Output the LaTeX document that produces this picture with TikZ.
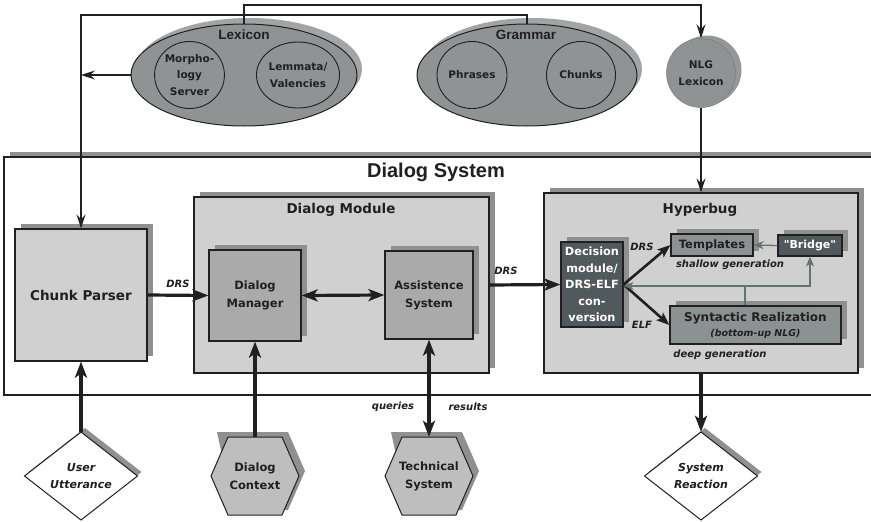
\documentclass[tikz,border=0pt]{standalone}
\usepackage{fontspec}
\setmainfont{DejaVu Sans}
\newfontfamily\arialfont{Liberation Sans}
\newfontfamily\plainsans{DejaVu Sans}
\usetikzlibrary{shapes.geometric,arrows.meta,shadows}

\definecolor{ink}{RGB}{35,31,32}
\definecolor{shgray}{RGB}{143,145,145}
\definecolor{lightbox}{RGB}{208,208,208}
\definecolor{midbox}{RGB}{170,170,170}
\definecolor{greenbox}{RGB}{140,145,145}
\definecolor{darkbox}{RGB}{80,90,92}
\definecolor{ellfill}{RGB}{143,147,147}
\definecolor{ellshade}{RGB}{162,165,165}
\definecolor{hexfill}{RGB}{190,190,190}
\definecolor{conngray}{RGB}{100,115,115}

\newcommand{\fsz}[2]{\fontsize{#1}{#2}\selectfont}

\begin{document}
\begin{tikzpicture}[x=1pt,y=-1pt,
  every node/.style={text=ink, font=\bfseries},
  shadowed/.style={drop shadow={shadow xshift=6pt, shadow yshift=5pt, fill=shgray, opacity=1}},
  ellshadowed/.style={drop shadow={shadow xshift=5pt, shadow yshift=6pt, fill=ellshade, opacity=1}},
  blockbox/.style={rectangle, draw=ink, line width=1.2pt, inner sep=0pt, align=center},
  lightblock/.style={blockbox, fill=lightbox, shadowed},
  midblock/.style={blockbox, fill=midbox, shadowed},
  greenblock/.style={blockbox, fill=greenbox, shadowed},
  darkblock/.style={blockbox, fill=darkbox, shadowed, text=white},
  title/.style={font=\bfseries\fsz{13.5}{16}},
  arialtitle/.style={font=\arialfont\bfseries\fsz{13.5}{16}},
  bigell/.style={ellipse, draw=ink, line width=1pt, fill=ellfill, inner sep=0pt, ellshadowed},
  innerell/.style={ellipse, draw=ink, line width=0.9pt, inner sep=0pt, align=center, font=\bfseries\fsz{10.5}{16.5}},
  tagtext/.style={font=\bfseries\itshape\fsz{10}{12}},
  shapetext/.style={rectangle, inner sep=0pt, align=center},
  thinarrow/.style={draw=ink, line width=1.2pt, -{Stealth[length=14pt,width=9pt,inset=5pt]}},
  thickarrow/.style={draw=ink, line width=3.2pt, -{Stealth[length=16pt,width=12pt,inset=4pt]}},
  thickboth/.style={draw=ink, line width=3.2pt, {Stealth[length=16pt,width=12pt,inset=4pt]}-{Stealth[length=16pt,width=12pt,inset=4pt]}},
  midarrow/.style={draw=ink, line width=2.6pt, -{Stealth[length=13pt,width=10pt,inset=3pt]}},
  gline/.style={draw=conngray, line width=1.3pt},
  garrow/.style={gline, -{Stealth[length=10pt,width=8pt,inset=3pt]}}
]
\useasboundingbox (0,0) rectangle (871,522);
\fill[white] (0,0) rectangle (871,522);

% ---------- Dialog System frame ----------
\fill[shgray] (10,151.5) rectangle (871,156.5);
\draw[ink, line width=1.2pt] (871,157) -| (4,395) -- (871,395);
\node[font=\arialfont\bfseries\fsz{20}{24}] (dstitle) at (436,172) {Dialog System};

% ---------- knowledge sources ----------
\node[bigell, minimum width=226pt, minimum height=102pt] (lex) at (244,75) {};
\node[arialtitle] (lextitle) at (244,35) {Lexicon};
\node[innerell, minimum width=69pt, minimum height=67pt] (morph) at (189.5,75) {Morpho-\\logy\\Server};
\node[innerell, minimum width=80pt, minimum height=66pt] (lemma) at (298,75) {Lemmata/\\Valencies};

\node[bigell, minimum width=220pt, minimum height=102pt] (gram) at (527,75) {};
\node[arialtitle] (gramtitle) at (526,35) {Grammar};
\node[innerell, minimum width=70pt, minimum height=67pt] (phr) at (472,75) {Phrases};
\node[innerell, minimum width=69pt, minimum height=67pt] (chk) at (581,75) {Chunks};

\node[circle, fill=ellfill, draw=ellfill!85!black, line width=0.5pt, minimum size=69pt, inner sep=0pt, align=center,
  drop shadow={shadow xshift=6pt, shadow yshift=3pt, fill=ellfill!95!white, opacity=1},
  font=\bfseries\fsz{10.5}{16.5}] (nlg) at (701,73) {NLG\\Lexicon};

% ---------- Chunk parser ----------
\node[lightblock, minimum width=132pt, minimum height=132pt, font=\bfseries\fsz{13.5}{16}] (cp) at (81,295) {Chunk Parser};

% ---------- Dialog module ----------
\node[lightblock, minimum width=295pt, minimum height=176pt] (dmod) at (341.5,285) {};
\node[title] (dmodtitle) at (341,210) {Dialog Module};
\node[midblock, minimum width=92pt, minimum height=91pt, font=\bfseries\fsz{11.5}{18}] (dman) at (255,295.5) {Dialog\\Manager};
\node[midblock, minimum width=88pt, minimum height=88pt, font=\bfseries\fsz{11.5}{18}] (as) at (429,295) {Assistence\\System};

% ---------- Hyperbug ----------
\node[lightblock, minimum width=314pt, minimum height=180pt] (hyp) at (701,283) {};
\node[title] (hyptitle) at (700,210) {Hyperbug};
\node[darkblock, minimum width=62pt, minimum height=85pt, font=\bfseries\fsz{11.3}{16.5}] (dec) at (592,284.5) {Decision\\module/\\DRS-ELF\\con-\\version};
\node[greenblock, minimum width=82pt, minimum height=22pt, font=\bfseries\fsz{11.5}{14}] (tpl) at (712,245) {Templates};
\node[darkblock, minimum width=64pt, minimum height=21pt, font=\plainsans\bfseries\fsz{11}{14}] (br) at (810,245.5) {"Bridge"};
\node[greenblock, minimum width=171pt, minimum height=38pt, font=\bfseries\fsz{12}{15}] (syn) at (755.5,325)
  {Syntactic Realization\\{\itshape\fsz{9.5}{12}(bottom-up NLG)}};
\node[tagtext] (shallow) at (730,265) {shallow generation};
\node[tagtext] (deep) at (720,355) {deep generation};

% ---------- external inputs and outputs ----------
\begin{scope}[shift={(81,476)}]
  \fill[shgray] (4,-48) -- (60.5,-4) -- (4,40) -- (-52.5,-4) -- cycle;
  \filldraw[fill=white, draw=ink, line width=1pt] (0,-44) -- (56.5,0) -- (0,44) -- (-56.5,0) -- cycle;
\end{scope}
\node[shapetext, minimum width=113pt, minimum height=88pt, font=\bfseries\itshape\fsz{11}{17}] (uu) at (81,476) {User\\Utterance};

\begin{scope}[shift={(701,476)}]
  \fill[shgray] (4,-48) -- (60.5,-4) -- (4,40) -- (-52.5,-4) -- cycle;
  \filldraw[fill=white, draw=ink, line width=1pt] (0,-44) -- (56.5,0) -- (0,44) -- (-56.5,0) -- cycle;
\end{scope}
\node[shapetext, minimum width=113pt, minimum height=88pt, font=\bfseries\itshape\fsz{11}{17}] (sr) at (701,476) {System\\Reaction};

\begin{scope}[shift={(255,476)}]
  \fill[shgray] (-38,-44) -- (-21,-44) -- (33,-44) -- (50,-5) -- (33,34) -- (-21,34) -- cycle;
  \filldraw[fill=hexfill, draw=ink, line width=1pt] (-44,0) -- (-27,-39) -- (27,-39) -- (44,0) -- (27,39) -- (-27,39) -- cycle;
\end{scope}
\node[shapetext, minimum width=88pt, minimum height=78pt, font=\bfseries\fsz{11.5}{18}] (dc) at (255,476) {Dialog\\Context};

\begin{scope}[shift={(429,476)}]
  \fill[shgray] (-38,-44) -- (-21,-44) -- (33,-44) -- (50,-5) -- (33,34) -- (-21,34) -- cycle;
  \filldraw[fill=hexfill, draw=ink, line width=1pt] (-44,0) -- (-27,-39) -- (27,-39) -- (44,0) -- (27,39) -- (-27,39) -- cycle;
\end{scope}
\node[shapetext, minimum width=88pt, minimum height=78pt, font=\bfseries\fsz{11.5}{18}] (ts) at (429,476) {Technical\\System};

% ---------- connectors: knowledge sources ----------
\coordinate (topA) at (244,5);
\coordinate (topB) at (527,15);
\draw[thinarrow] (lex.north) -- (topA) -| (nlg.north);
\draw[thinarrow] (gram.north) |- (cp.north |- topB) -- (cp.north);
\draw[thinarrow] (lex.west) -- (lex.west -| cp.north);
\draw[thinarrow] (nlg.south) -- (hyp.north);

% ---------- connectors: processing chain ----------
\draw[thickarrow] (cp.east) -- (dman.west) node[midway, above=3pt, tagtext] (lblA) {DRS};
\draw[thickboth] (dman.east) -- (as.west);
\draw[thickarrow] (dmod.east) -- (dec.west);
\node[tagtext] (lblB) at (506,271) {DRS};
\draw[midarrow] (dec.east) -- (tpl.west);
\draw[midarrow] (dec.east) -- (syn.west);
\node[tagtext] (lblC) at (642,247) {DRS};
\node[tagtext] (lblD) at (642,325) {ELF};

% ---------- connectors: Hyperbug internals ----------
\coordinate (junc) at (745,286);
\draw[gline] (syn.north -| junc) -- (junc);
\draw[garrow] (junc) -- (dec.east |- junc);
\draw[garrow] (junc) -| (br.south);
\draw[garrow] (br.west) -- (tpl.east);

% ---------- connectors: external ----------
\draw[thickarrow] (uu.north) -- (cp.south);
\draw[thickarrow] (dc.north) -- (dman.south);
\draw[thickboth] (as.south) -- (ts.north);
\draw[thickarrow] (hyp.south) -- (sr.north);
\node[tagtext] (lblQ) at (393,407) {queries};
\node[tagtext] (lblR) at (468,407) {results};
\end{tikzpicture}
\end{document}
